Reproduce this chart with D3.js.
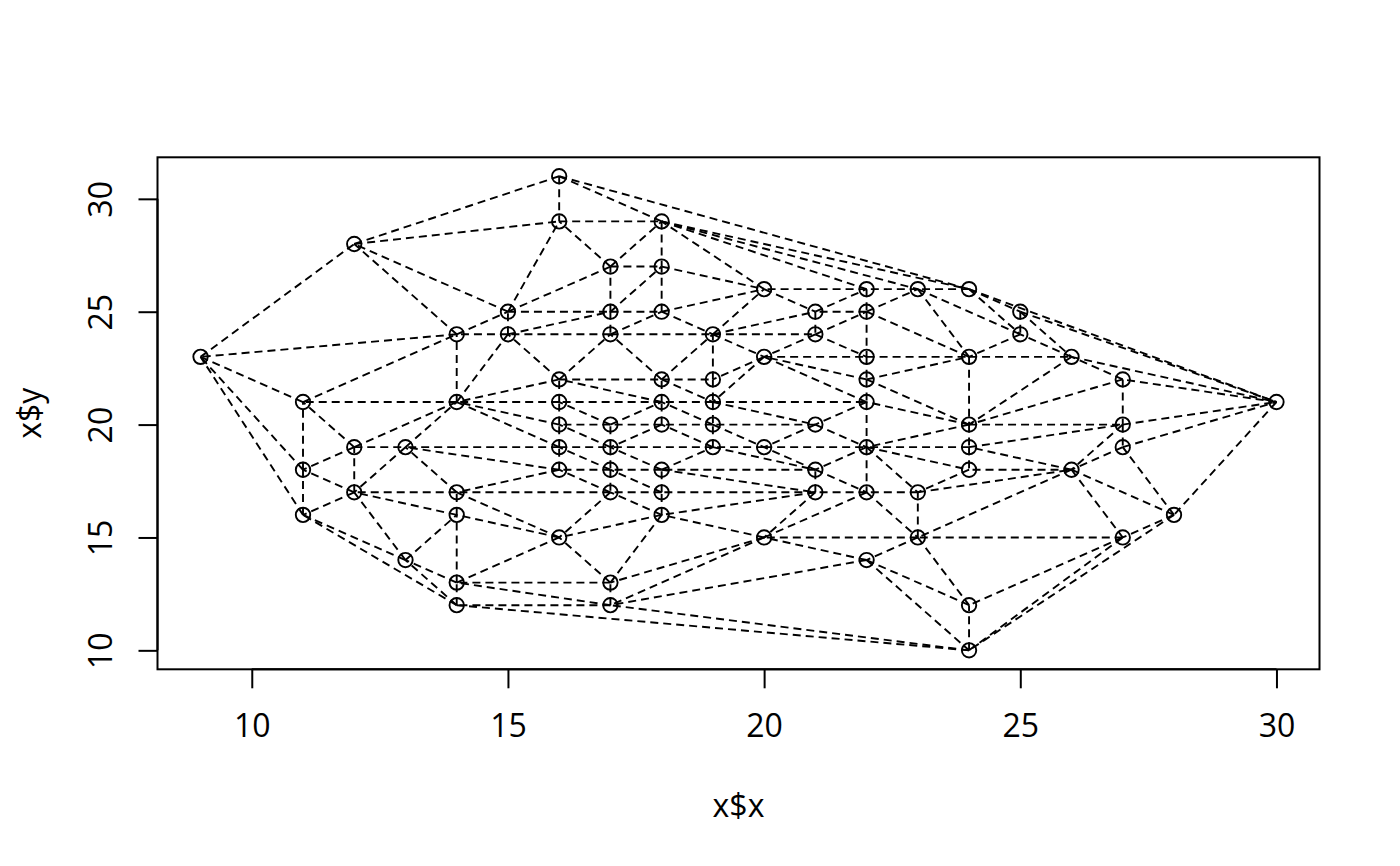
<!DOCTYPE html>
<html>
<head>
<meta charset="utf-8">
<script src="https://cdn.jsdelivr.net/npm/d3@7"></script>
<style>
  html, body { margin: 0; padding: 0; background: #fff; }
  svg { display: block; }
  text { font-family: "Open Sans", "Noto Sans", sans-serif; fill: #000; }
</style>
</head>
<body>
<svg id="chart" width="1400" height="866"></svg>
<script>
// Triangulation nodes
const xs = [
  9, 11, 11, 11, 12, 12, 12, 13, 13, 14, 14, 14, 14, 14, 14, 15, 15,
  16, 16, 16, 16, 16, 16, 16, 16, 17, 17, 17, 17, 17, 17, 17, 17, 17,
  18, 18, 18, 18, 18, 18, 18, 18, 18, 19, 19, 19, 19, 19, 20, 20, 20, 20,
  21, 21, 21, 21, 21, 22, 22, 22, 22, 22, 22, 22, 22, 23, 23, 23,
  24, 24, 24, 24, 24, 24, 24, 25, 25, 26, 26, 27, 27, 27, 27, 28, 30
];
const ys = [
  23, 21, 18, 16, 28, 19, 17, 19, 14, 24, 21, 17, 16, 13, 12, 25, 24,
  31, 29, 22, 21, 20, 19, 18, 15, 27, 25, 24, 20, 19, 18, 17, 13, 12,
  29, 27, 25, 22, 21, 20, 18, 17, 16, 24, 22, 21, 20, 19, 26, 23, 19, 15,
  25, 24, 20, 18, 17, 26, 25, 23, 22, 21, 19, 17, 14, 26, 17, 15,
  26, 23, 20, 19, 18, 12, 10, 25, 24, 23, 18, 22, 20, 19, 15, 16, 21
];
// Diagonals used by the reference where four or more nodes are cocircular
const tieDiagonals = [
  [14, 13, 14, 16],
  [18, 18, 21, 17],
  [19, 19, 21, 18],
  [19, 21, 22, 21],
  [20, 23, 22, 21],
  [20, 19, 22, 19],
  [23, 17, 26, 18],
  [24, 19, 27, 20]
];
const xTicks = [10, 15, 20, 25, 30];
const yTicks = [10, 15, 20, 25, 30];
const xTitle = "x$x";
const yTitle = "x$y";

const svg = d3.select("#chart");
const L = 157.5, R = 1319.5, T = 157.3, B = 669.3;
const xr = d3.extent(xs), yr = d3.extent(ys);
const xPad = (xr[1] - xr[0]) * 0.04, yPad = (yr[1] - yr[0]) * 0.04;
const x = d3.scaleLinear().domain([xr[0] - xPad, xr[1] + xPad]).range([L, R]);
const y = d3.scaleLinear().domain([yr[0] - yPad, yr[1] + yPad]).range([B, T]);

// Delaunay triangulation (data coordinates)
const pts = xs.map((v, i) => [v, ys[i]]);
const del = d3.Delaunay.from(pts);
const { triangles, halfedges } = del;
const nxt = e => (e % 3 === 2 ? e - 2 : e + 1);
let edges = [];
for (let e = 0; e < triangles.length; e++) {
  const o = halfedges[e];
  if (o > e || o === -1) edges.push([triangles[e], triangles[nxt(e)]]);
}
// Resolve cocircular ties the way the reference does
const orient = (a, b, c) => Math.sign((b[0] - a[0]) * (c[1] - a[1]) - (b[1] - a[1]) * (c[0] - a[0]));
const crosses = (p1, p2, q1, q2) =>
  orient(p1, p2, q1) * orient(p1, p2, q2) < 0 && orient(q1, q2, p1) * orient(q1, q2, p2) < 0;
const idx = (px, py) => pts.findIndex(p => p[0] === px && p[1] === py);
tieDiagonals.forEach(([ax, ay, bx, by]) => {
  const a = idx(ax, ay), b = idx(bx, by);
  if (a < 0 || b < 0) return;
  if (edges.some(([u, v]) => (u === a && v === b) || (u === b && v === a))) return;
  edges = edges.filter(([u, v]) => !crosses(pts[a], pts[b], pts[u], pts[v]));
  edges.push([a, b]);
});

const g = svg.append("g");
g.selectAll("line.edge").data(edges).join("line")
  .attr("class", "edge")
  .attr("x1", d => x(xs[d[0]])).attr("y1", d => y(ys[d[0]]))
  .attr("x2", d => x(xs[d[1]])).attr("y2", d => y(ys[d[1]]))
  .attr("stroke", "#000").attr("stroke-width", 1.9)
  .attr("stroke-dasharray", "8,5").attr("fill", "none");

g.selectAll("circle.pt").data(pts).join("circle")
  .attr("class", "pt")
  .attr("cx", d => x(d[0])).attr("cy", d => y(d[1]))
  .attr("r", 7.2).attr("fill", "none").attr("stroke", "#000").attr("stroke-width", 1.9);

// Box
svg.append("rect").attr("x", L).attr("y", T).attr("width", R - L).attr("height", B - T)
  .attr("fill", "none").attr("stroke", "#000").attr("stroke-width", 2);

// X axis
const xAxis = svg.append("g").attr("transform", `translate(0,${B})`)
  .call(d3.axisBottom(x).tickValues(xTicks).tickSize(19).tickPadding(0).tickFormat(d3.format("d")));
xAxis.select(".domain").attr("d", `M${x(xTicks[0])},0H${x(xTicks[xTicks.length-1])}`).attr("stroke-width", 2);
xAxis.selectAll(".tick line").attr("stroke-width", 2);
xAxis.selectAll(".tick text").attr("y", 68).attr("dy", null)
  .style("font-size", "32px").style("font-family", "'Open Sans', sans-serif");

// Y axis
const yAxis = svg.append("g").attr("transform", `translate(${L},0)`)
  .call(d3.axisLeft(y).tickValues(yTicks).tickSize(19).tickPadding(0).tickFormat(d3.format("d")));
yAxis.select(".domain").attr("d", `M0,${y(yTicks[0])}V${y(yTicks[yTicks.length-1])}`).attr("stroke-width", 2);
yAxis.selectAll(".tick line").attr("stroke-width", 2);
yAxis.selectAll(".tick text")
  .attr("x", null).attr("dy", null)
  .attr("text-anchor", "middle")
  .attr("transform", "translate(-46,0) rotate(-90)")
  .style("font-size", "32px").style("font-family", "'Open Sans', sans-serif");

// Titles
svg.append("text").attr("x", (L + R) / 2).attr("y", 817).attr("text-anchor", "middle")
  .style("font-size", "32px").text(xTitle);
svg.append("text").attr("transform", `translate(41,${(T + B) / 2}) rotate(-90)`)
  .attr("text-anchor", "middle").style("font-size", "32px").text(yTitle);
</script>
</body>
</html>
